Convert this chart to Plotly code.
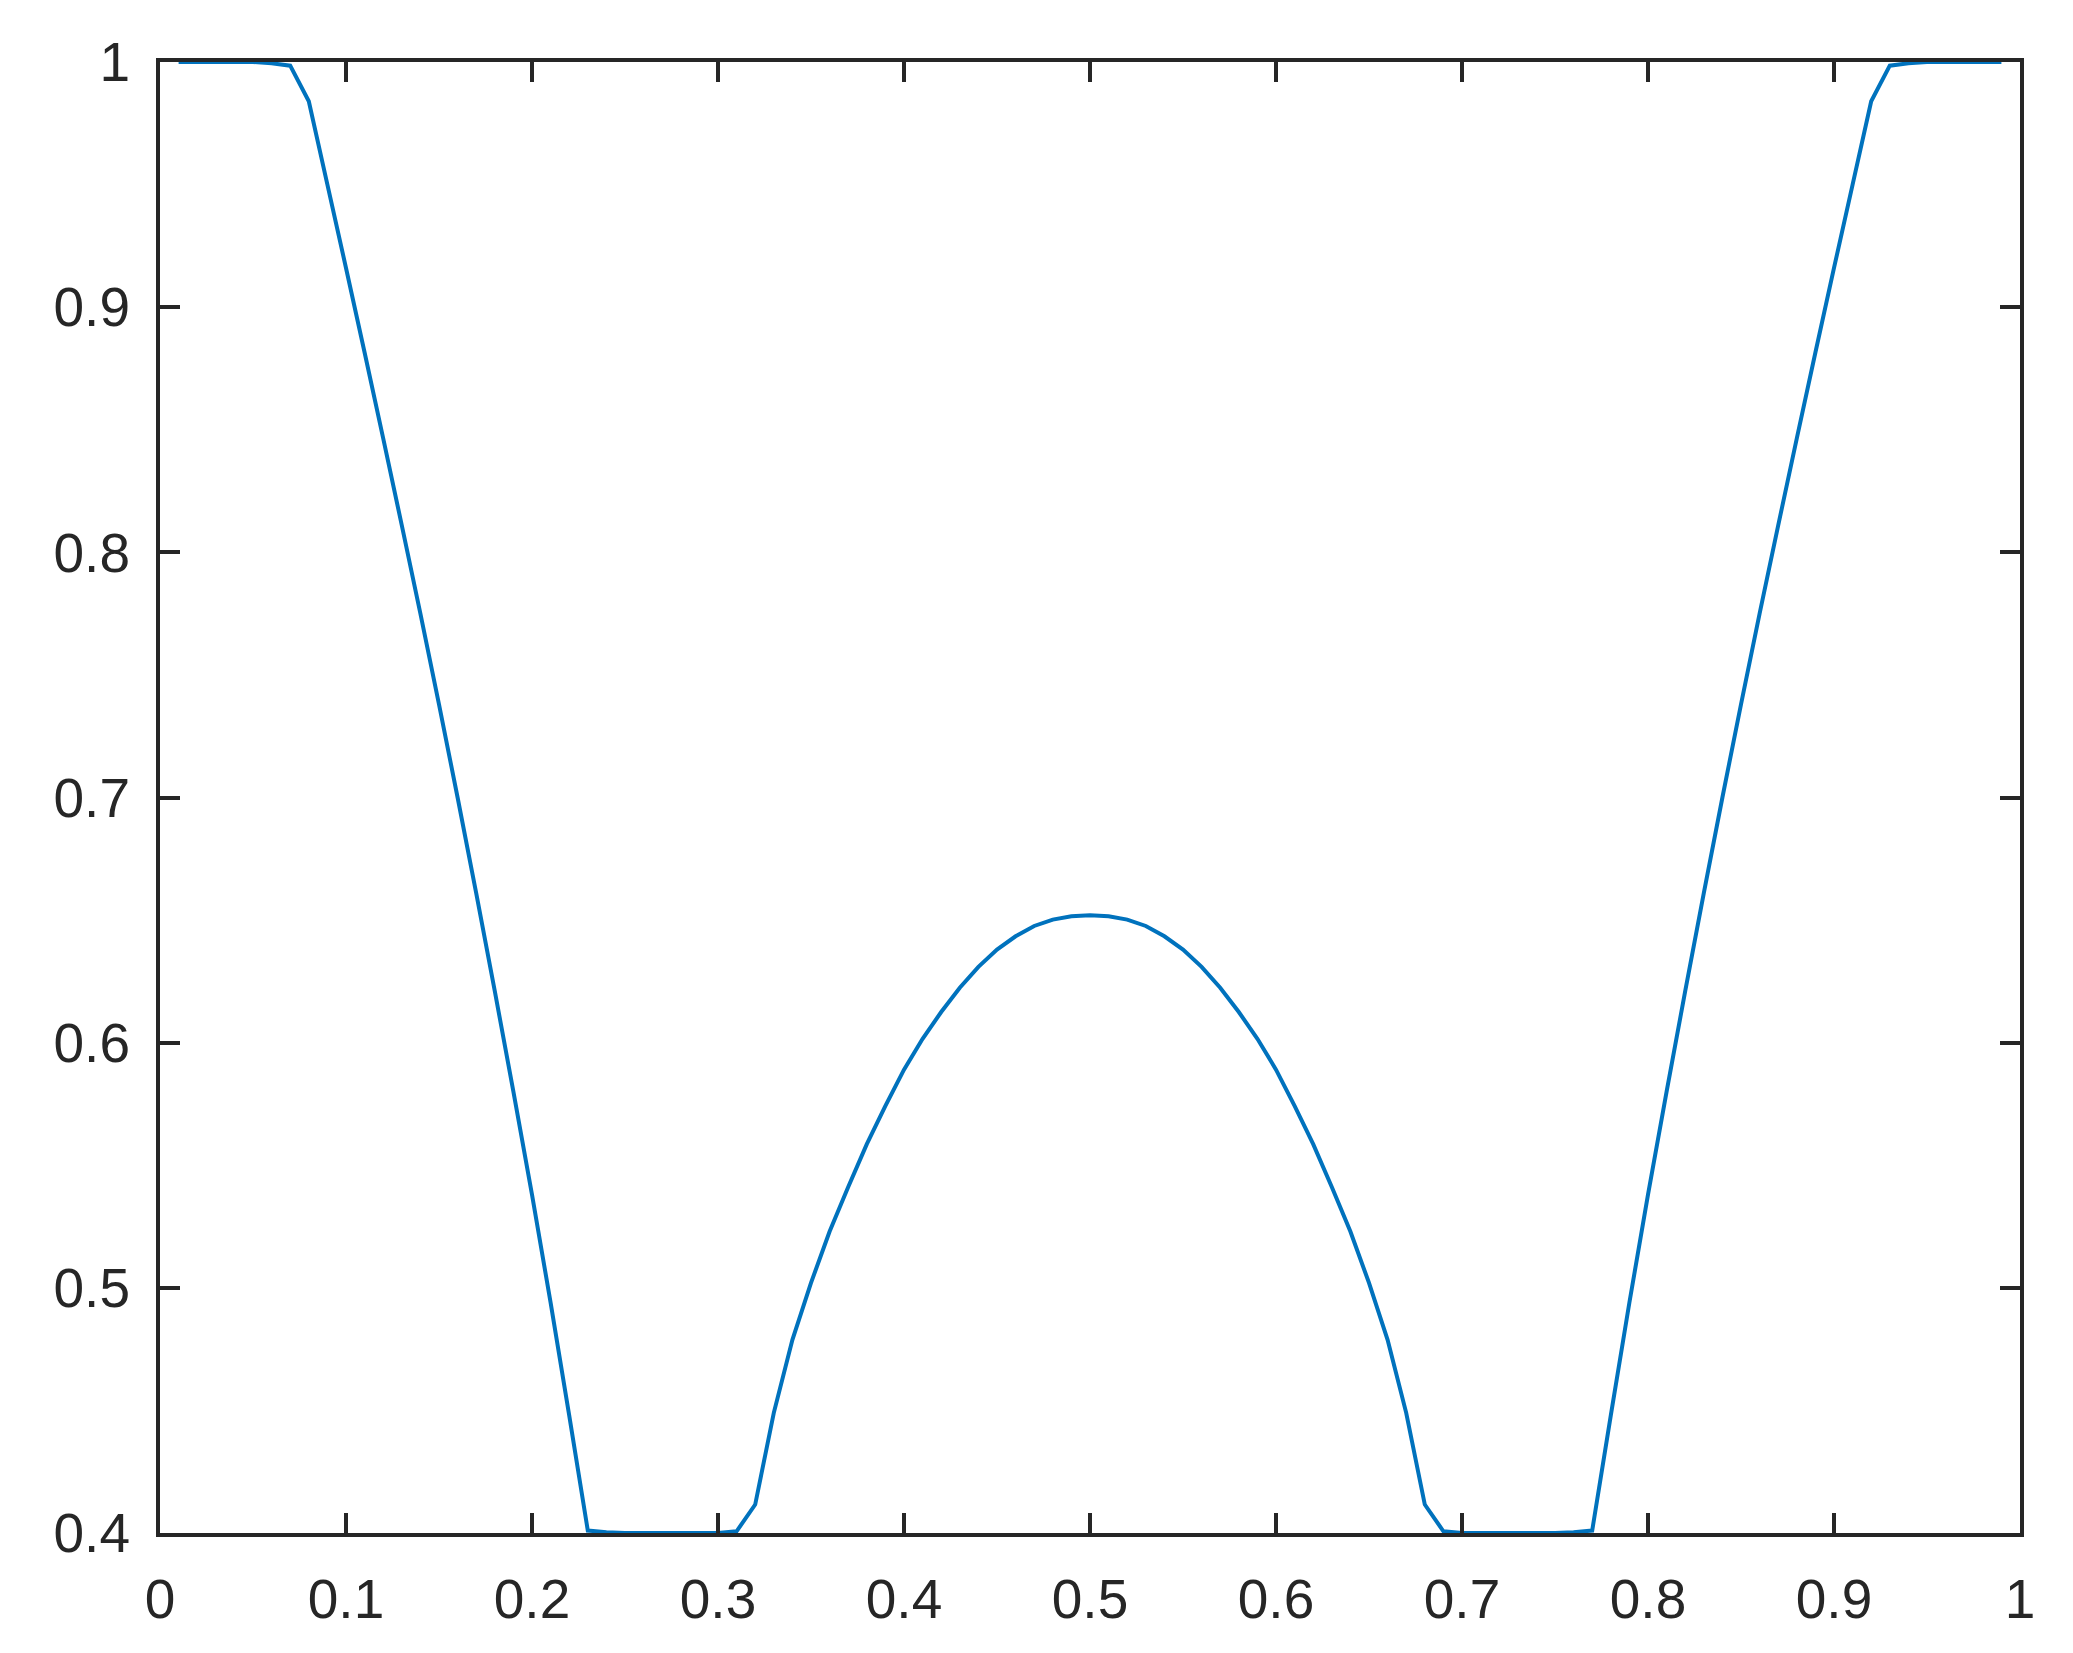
import plotly.graph_objects as go

x_vals = [0.01, 0.02, 0.03, 0.04, 0.05, 0.06, 0.07, 0.08, 0.09, 0.10,
          0.11, 0.12, 0.13, 0.14, 0.15, 0.16, 0.17, 0.18, 0.19, 0.20,
          0.21, 0.22, 0.23, 0.24, 0.25, 0.26, 0.27, 0.28, 0.29, 0.30,
          0.31, 0.32, 0.33, 0.34, 0.35, 0.36, 0.37, 0.38, 0.39, 0.40,
          0.41, 0.42, 0.43, 0.44, 0.45, 0.46, 0.47, 0.48, 0.49, 0.50,
          0.51, 0.52, 0.53, 0.54, 0.55, 0.56, 0.57, 0.58, 0.59, 0.60,
          0.61, 0.62, 0.63, 0.64, 0.65, 0.66, 0.67, 0.68, 0.69, 0.70,
          0.71, 0.72, 0.73, 0.74, 0.75, 0.76, 0.77, 0.78, 0.79, 0.80,
          0.81, 0.82, 0.83, 0.84, 0.85, 0.86, 0.87, 0.88, 0.89, 0.90,
          0.91, 0.92, 0.93, 0.94, 0.95, 0.96, 0.97, 0.98, 0.99]

y_vals = [1.0, 1.0, 1.0, 1.0, 1.0, 0.9995, 0.9985, 0.984, 0.950, 0.916,
          0.8815, 0.8465, 0.811, 0.775, 0.738, 0.700, 0.661, 0.621, 0.580, 0.538,
          0.494, 0.448, 0.401, 0.4003, 0.4, 0.4, 0.4, 0.4, 0.4, 0.4,
          0.4007, 0.4116, 0.449, 0.4788, 0.502, 0.523, 0.5411, 0.5586, 0.5742, 0.589,
          0.6016, 0.6125, 0.6224, 0.6309, 0.638, 0.6434, 0.6476, 0.6502, 0.6516, 0.652,
          0.6516, 0.6502, 0.6476, 0.6434, 0.638, 0.6309, 0.6224, 0.6125, 0.6016, 0.589,
          0.5742, 0.5586, 0.5411, 0.523, 0.502, 0.4788, 0.449, 0.4116, 0.4007, 0.4,
          0.4, 0.4, 0.4, 0.4, 0.4, 0.4003, 0.401, 0.448, 0.494, 0.538,
          0.580, 0.621, 0.661, 0.700, 0.738, 0.775, 0.811, 0.8465, 0.8815, 0.916,
          0.950, 0.984, 0.9985, 0.9995, 1.0, 1.0, 1.0, 1.0, 1.0]

x_ticks = [0, 0.1, 0.2, 0.3, 0.4, 0.5, 0.6, 0.7, 0.8, 0.9, 1]
x_tick_labels = ["0", "0.1", "0.2", "0.3", "0.4", "0.5", "0.6", "0.7", "0.8", "0.9", "1"]
y_ticks = [0.4, 0.5, 0.6, 0.7, 0.8, 0.9, 1]
y_tick_labels = ["0.4", "0.5", "0.6", "0.7", "0.8", "0.9", "1"]

fig = go.Figure()
fig.add_trace(go.Scatter(x=x_vals, y=y_vals, mode="lines",
                         line=dict(color="#0072BD", width=4, simplify=False),
                         showlegend=False, hoverinfo="skip"))

axis_common = dict(
    showline=True, linecolor="#262626", linewidth=4, mirror="ticks",
    ticks="inside", ticklen=20, tickwidth=4, tickcolor="#262626",
    showgrid=False, zeroline=False,
    tickfont=dict(family="Liberation Sans, Arial, Helvetica, sans-serif",
                  size=55, color="#262626"),
)

fig.update_xaxes(range=[0, 1], tickmode="array", tickvals=x_ticks,
                 ticktext=x_tick_labels, ticklabelstandoff=15, **axis_common)
fig.update_yaxes(range=[0.4, 1], tickmode="array", tickvals=y_ticks,
                 ticktext=y_tick_labels, ticklabelstandoff=15, **axis_common)

fig.update_layout(
    width=2073, height=1653,
    margin=dict(l=152, r=61, t=54, b=128, pad=0),
    paper_bgcolor="white", plot_bgcolor="white",
)

fig.write_html("out.html")
